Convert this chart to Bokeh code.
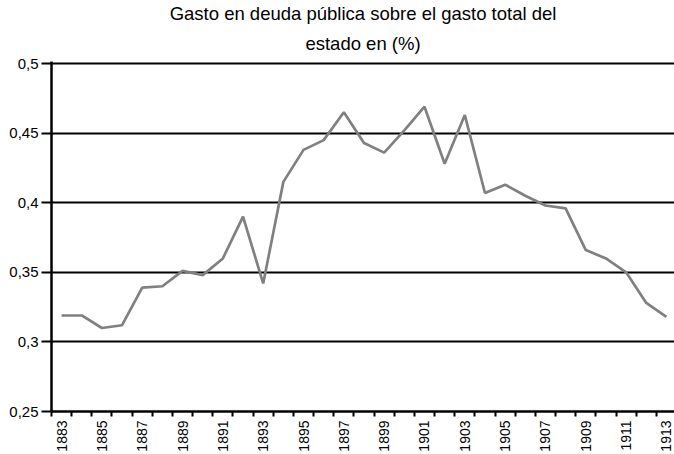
from math import pi
from bokeh.plotting import figure
from bokeh.models import FixedTicker, Title, Range1d
from bokeh.embed import file_html
from bokeh.resources import INLINE

years = list(range(1883, 1914))
values = [0.319, 0.319, 0.310, 0.312, 0.339, 0.340, 0.351, 0.348, 0.360, 0.390,
          0.342, 0.415, 0.438, 0.445, 0.465, 0.443, 0.436, 0.452, 0.469, 0.428,
          0.463, 0.407, 0.413, 0.405, 0.398, 0.396, 0.366, 0.360, 0.350, 0.328,
          0.318]
y_ticks = [0.25, 0.3, 0.35, 0.4, 0.45, 0.5]
y_tick_labels = ["0,25", "0,3", "0,35", "0,4", "0,45", "0,5"]
x_label_years = years[::2]
title_lines = ["Gasto en deuda pública sobre el gasto total del", "estado en (%)"]

FONT = "Liberation Sans"

p = figure(width=674, height=454, output_backend="svg", toolbar_location=None,
           x_range=Range1d(years[0] - 0.5, years[-1] + 0.4),
           y_range=Range1d(y_ticks[0], y_ticks[-1] + 0.0015),
           min_border_left=51, min_border_right=0, min_border_top=59, min_border_bottom=43)

p.outline_line_color = None
p.background_fill_color = "white"
p.border_fill_color = "white"

# titles: p.title ends up outermost, the added one sits next to the plot
p.title.text = title_lines[0]
p.title.align = "center"
p.title.text_font = FONT
p.title.text_font_size = "18.5px"
p.title.text_font_style = "normal"
p.title.text_color = "black"
p.title.standoff = 0
t2 = Title(text=title_lines[1], align="center", text_font=FONT, text_font_size="18.5px",
           text_font_style="normal", text_color="black", standoff=15)
p.add_layout(t2, "above")

p.line(years, values, line_color="#808080", line_width=2.7)

# x axis
boundaries = [y - 0.5 for y in years] + [years[-1] + 0.5]
p.xaxis.ticker = FixedTicker(ticks=x_label_years, minor_ticks=boundaries)
p.xaxis.major_tick_out = 0
p.xaxis.major_tick_in = 0
p.xaxis.minor_tick_out = 5
p.xaxis.minor_tick_in = 0
p.xaxis.minor_tick_line_color = "black"
p.xaxis.minor_tick_line_width = 2
p.xaxis.axis_line_color = "black"
p.xaxis.axis_line_width = 2.5
p.xaxis.major_label_orientation = pi / 2
p.xaxis.major_label_text_font = FONT
p.xaxis.major_label_text_font_size = "14px"
p.xaxis.major_label_text_color = "black"
p.xaxis.major_label_standoff = 4

# y axis
p.yaxis.ticker = FixedTicker(ticks=y_ticks, minor_ticks=[])
p.yaxis.major_label_overrides = {t: l for t, l in zip(y_ticks, y_tick_labels)}
p.yaxis.major_tick_out = 10
p.yaxis.major_tick_in = 0
p.yaxis.major_tick_line_color = "black"
p.yaxis.major_tick_line_width = 2
p.yaxis.axis_line_color = "black"
p.yaxis.axis_line_width = 2.5
p.yaxis.major_label_text_font = FONT
p.yaxis.major_label_text_font_size = "15px"
p.yaxis.major_label_text_color = "black"
p.yaxis.major_label_standoff = 3

p.xgrid.visible = False
p.ygrid.ticker = FixedTicker(ticks=y_ticks)
p.ygrid.grid_line_color = "black"
p.ygrid.grid_line_alpha = 1
p.ygrid.grid_line_width = 1.8

open("out.html", "w").write(file_html(p, INLINE))
